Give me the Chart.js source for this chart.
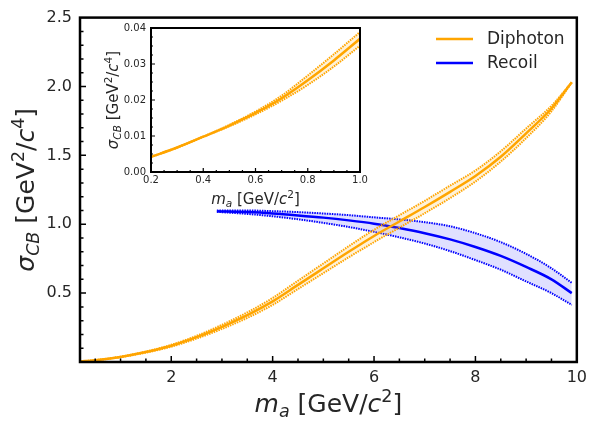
<!DOCTYPE html>
<html>
<head>
<meta charset="utf-8">
<script src="https://cdn.jsdelivr.net/npm/chart.js@4.4.0/dist/chart.umd.min.js"></script>
<style>
    html, body { margin: 0; padding: 0; background: #fff; }
    #wrap { position: relative; width: 593px; height: 421px; }
    #mainChart { position: absolute; left: 0; top: 0; }
    #insetChart { position: absolute; left: 95px; top: 15px; }
</style>
</head>
<body>
<div id="wrap">
    <canvas id="mainChart" width="593" height="421"></canvas>
    <canvas id="insetChart" width="275" height="200"></canvas>
</div>
<script>
// Diphoton band (main panel)
const diphotonX   = [0.2, 0.5, 1, 1.5, 2, 2.5, 3, 3.5, 4, 4.5, 5, 5.5, 6, 6.5, 7, 7.5, 8, 8.5, 9, 9.5, 9.9];
const diphotonMid = [0.004, 0.013, 0.037, 0.072, 0.118, 0.18, 0.255, 0.34, 0.44, 0.56, 0.68, 0.80, 0.915, 1.02, 1.125, 1.235, 1.35, 1.49, 1.66, 1.84, 2.03];
const diphotonUp  = [0.004, 0.013, 0.039, 0.076, 0.125, 0.19, 0.27, 0.36, 0.465, 0.59, 0.715, 0.84, 0.96, 1.065, 1.17, 1.28, 1.39, 1.53, 1.695, 1.86, 2.03];
const diphotonLow = [0.004, 0.013, 0.035, 0.068, 0.111, 0.17, 0.24, 0.32, 0.415, 0.53, 0.645, 0.76, 0.87, 0.975, 1.08, 1.19, 1.31, 1.455, 1.625, 1.82, 2.03];

// Recoil band
const recoilX   = [2.9, 3.5, 4, 4.5, 5, 5.5, 6, 6.5, 7, 7.5, 8, 8.5, 9, 9.5, 9.9];
const recoilMid = [1.095, 1.088, 1.078, 1.064, 1.048, 1.028, 1.004, 0.972, 0.935, 0.89, 0.835, 0.77, 0.69, 0.60, 0.50];
const recoilUp  = [1.10, 1.10, 1.095, 1.088, 1.078, 1.066, 1.05, 1.035, 1.015, 0.985, 0.935, 0.87, 0.785, 0.68, 0.575];
const recoilLow = [1.09, 1.075, 1.058, 1.036, 1.01, 0.98, 0.945, 0.905, 0.86, 0.805, 0.74, 0.67, 0.585, 0.50, 0.415];

// Inset (low mass zoom of diphoton)
const insetX   = [0.2, 0.3, 0.4, 0.5, 0.6, 0.7, 0.8, 0.9, 1.0];
const insetMid = [0.0042, 0.0068, 0.0098, 0.0129, 0.0164, 0.0205, 0.0255, 0.031, 0.037];
const insetUp  = [0.0042, 0.0068, 0.0098, 0.0131, 0.0168, 0.0212, 0.0268, 0.0327, 0.0389];
const insetLow = [0.0042, 0.0068, 0.0098, 0.0127, 0.016, 0.0198, 0.0242, 0.0293, 0.0351];

// tick labels
const xTicks = [2, 4, 6, 8, 10];
const yTicks = [0.5, 1.0, 1.5, 2.0, 2.5];
const insetXTicks = [0.2, 0.4, 0.6, 0.8, 1.0];
const insetYTicks = [0, 0.01, 0.02, 0.03, 0.04];

const ORANGE = '#ffa500';
const BLUE = '#0000ff';
const FONT = "'DejaVu Sans'";
const TXT = '#262626';

Chart.defaults.font.family = FONT;
Chart.defaults.color = TXT;

const pts = (xs, ys) => xs.map((x, i) => ({ x, y: ys[i] }));

function band(xs, up, low, mid, color, fill, label) {
    return [
        { data: pts(xs, up), borderColor: color, borderWidth: 2, borderDash: [1.5, 1], fill: '+1', backgroundColor: fill, pointRadius: 0, cubicInterpolationMode: 'monotone' },
        { data: pts(xs, low), borderColor: color, borderWidth: 2, borderDash: [1.5, 1], fill: false, pointRadius: 0, cubicInterpolationMode: 'monotone' },
        { label, data: pts(xs, mid), borderColor: color, borderWidth: 2.5, fill: false, pointRadius: 0, cubicInterpolationMode: 'monotone' }
    ];
}

// draws a label made of plain / italic / sub / sup pieces
function richText(ctx, parts, x, y, size, vertical) {
    const fontFor = p => (p.it ? 'italic ' : '') + ((p.sub || p.sup) ? size * 0.7 : size) + 'px ' + FONT;
    let total = 0;
    parts.forEach(p => { ctx.font = fontFor(p); total += ctx.measureText(p.t).width; });
    ctx.save();
    ctx.translate(x, y);
    if (vertical) ctx.rotate(-Math.PI / 2);
    ctx.fillStyle = TXT;
    ctx.textBaseline = 'alphabetic';
    ctx.textAlign = 'left';
    let cx = -total / 2;
    parts.forEach(p => {
        ctx.font = fontFor(p);
        const dy = p.sub ? size * 0.2 : p.sup ? -size * 0.42 : 0;
        ctx.fillText(p.t, cx, dy);
        cx += ctx.measureText(p.t).width;
    });
    ctx.restore();
}

const xTitle = [{ t: 'm', it: true }, { t: 'a', it: true, sub: true }, { t: ' [GeV/' }, { t: 'c', it: true }, { t: '2', sup: true }, { t: ']' }];
const yTitle = [{ t: 'σ', it: true }, { t: 'CB', it: true, sub: true }, { t: ' [GeV' }, { t: '2', sup: true }, { t: '/' }, { t: 'c', it: true }, { t: '4', sup: true }, { t: ']' }];

function decor(cfg) {
    return {
        id: 'decor',
        beforeDatasetsDraw(chart) {
            if (!cfg.whiteBg) return;
            const a = chart.chartArea, ctx = chart.ctx;
            ctx.save();
            ctx.fillStyle = '#fff';
            ctx.fillRect(a.left, a.top, a.right - a.left, a.bottom - a.top);
            ctx.restore();
        },
        afterDraw(chart) {
            const ctx = chart.ctx, a = chart.chartArea;
            const xs = chart.scales.x, ys = chart.scales.y;
            ctx.save();
            ctx.strokeStyle = '#000';
            ctx.lineWidth = cfg.frame;
            ctx.strokeRect(a.left, a.top, a.right - a.left, a.bottom - a.top);
            ctx.lineWidth = cfg.tickW;
            ctx.beginPath();
            const nx = Math.round((xs.max - xs.min) / cfg.xMinor);
            for (let i = 0; i <= nx + 1; i++) {
                const v = Math.round((Math.ceil(xs.min / cfg.xMinor) + i) * cfg.xMinor * 1e6) / 1e6;
                if (v <= xs.min || v >= xs.max) continue;
                const major = cfg.xMajor.some(m => Math.abs(m - v) < 1e-6);
                const px = xs.getPixelForValue(v);
                ctx.moveTo(px, a.bottom);
                ctx.lineTo(px, a.bottom - (major ? cfg.major : cfg.minor));
            }
            const ny = Math.round((ys.max - ys.min) / cfg.yMinor);
            for (let i = 1; i < ny; i++) {
                const v = Math.round((ys.min + i * cfg.yMinor) * 1e6) / 1e6;
                const major = cfg.yMajor.some(m => Math.abs(m - v) < 1e-6);
                const py = ys.getPixelForValue(v);
                ctx.moveTo(a.left, py);
                ctx.lineTo(a.left + (major ? cfg.major : cfg.minor), py);
            }
            ctx.stroke();
            ctx.restore();

            richText(ctx, xTitle, (a.left + a.right) / 2, cfg.xTitleY, cfg.titleSize, false);
            richText(ctx, yTitle, cfg.yTitleX, (a.top + a.bottom) / 2, cfg.titleSize, true);

            if (cfg.legend) {
                ctx.save();
                ctx.font = '17px ' + FONT;
                ctx.textBaseline = 'middle';
                ctx.fillStyle = TXT;
                [['Diphoton', ORANGE, 39], ['Recoil', BLUE, 63]].forEach(([name, col, y]) => {
                    ctx.strokeStyle = col;
                    ctx.lineWidth = 2.5;
                    ctx.beginPath();
                    ctx.moveTo(436, y);
                    ctx.lineTo(473, y);
                    ctx.stroke();
                    ctx.fillText(name, 487, y + 1);
                });
                ctx.restore();
            }
        }
    };
}

function scaleOpts(min, max, ticks, fmt, size, pad, fitKey, fitVal) {
    return {
        type: 'linear', min, max,
        grid: { display: false, drawTicks: false },
        border: { display: false },
        afterBuildTicks: s => { s.ticks = ticks.map(v => ({ value: v })); },
        afterFit: s => { s[fitKey] = fitVal; },
        ticks: { font: { size }, color: TXT, padding: pad, maxRotation: 0, autoSkip: false, callback: fmt }
    };
}

new Chart(document.getElementById('mainChart'), {
    type: 'line',
    data: {
        datasets: [
            ...band(diphotonX, diphotonUp, diphotonLow, diphotonMid, ORANGE, 'rgba(255,165,0,0.15)', 'Diphoton'),
            ...band(recoilX, recoilUp, recoilLow, recoilMid, BLUE, 'rgba(0,0,255,0.12)', 'Recoil')
        ]
    },
    options: {
        responsive: false,
        animation: false,
        layout: { padding: { left: 0, top: 16, right: 13, bottom: 0 } },
        plugins: { legend: { display: false }, tooltip: { enabled: false } },
        scales: {
            x: scaleOpts(0.2, 10, xTicks, v => String(v), 16, 6, 'height', 59),
            y: scaleOpts(0, 2.5, yTicks, v => v.toFixed(1), 16, 8, 'width', 80)
        }
    },
    plugins: [decor({ frame: 2.5, tickW: 1.5, major: 6, minor: 3.5, xMinor: 0.5, yMinor: 0.1, xMajor: xTicks, yMajor: yTicks,
        xTitleY: 412, yTitleX: 34, titleSize: 25, legend: true })]
});

new Chart(document.getElementById('insetChart'), {
    type: 'line',
    data: { datasets: band(insetX, insetUp, insetLow, insetMid, ORANGE, 'rgba(255,165,0,0.15)', 'Diphoton') },
    options: {
        responsive: false,
        animation: false,
        layout: { padding: { left: 0, top: 13, right: 10, bottom: 0 } },
        plugins: { legend: { display: false }, tooltip: { enabled: false } },
        scales: {
            x: scaleOpts(0.2, 1.0, insetXTicks, v => v.toFixed(1), 10, 2, 'height', 43),
            y: scaleOpts(0, 0.04, insetYTicks, v => v.toFixed(2), 10, 5, 'width', 56)
        }
    },
    plugins: [decor({ whiteBg: true, frame: 2, tickW: 1.2, major: 4, minor: 2, xMinor: 0.05, yMinor: 0.0025, xMajor: insetXTicks, yMajor: insetYTicks,
        xTitleY: 189, yTitleX: 23, titleSize: 15 })]
});
</script>
</body>
</html>
